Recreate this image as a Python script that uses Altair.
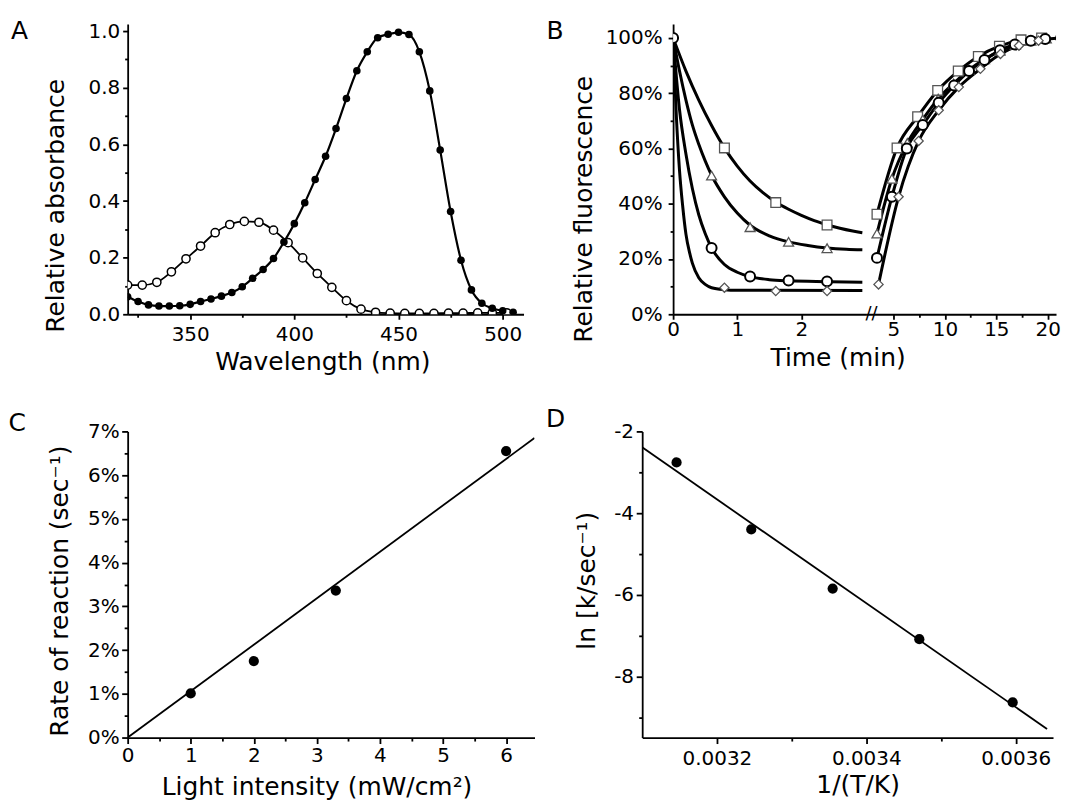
import altair as alt
import pandas as pd

FONT = "DejaVu Sans"

# ---------------- Panel A : absorbance spectra ----------------
a_wl_filled = [320, 325, 330, 335, 340, 345, 350, 355, 360, 365, 370, 375, 380, 385, 390,
               395, 400, 405, 410, 415, 420, 425, 430, 435, 440, 445, 450, 455, 460, 465,
               470, 475, 480, 485, 490, 495, 500, 505]
a_abs_filled = [0.062, 0.045, 0.033, 0.029, 0.029, 0.030, 0.035, 0.045, 0.054, 0.064, 0.077,
                0.097, 0.127, 0.158, 0.197, 0.255, 0.320, 0.394, 0.476, 0.558, 0.656, 0.762,
                0.860, 0.927, 0.977, 0.989, 0.996, 0.988, 0.927, 0.789, 0.580, 0.363, 0.191,
                0.086, 0.039, 0.021, 0.012, 0.007]
a_wl_open = [320, 327, 334, 341, 348, 355, 362, 369, 376, 383, 390, 397, 404, 411, 418,
             425, 432, 439, 446, 453, 460, 467, 474, 481, 488, 495, 502]
a_abs_open = [0.103, 0.103, 0.113, 0.150, 0.196, 0.241, 0.288, 0.317, 0.328, 0.325, 0.297,
              0.253, 0.199, 0.144, 0.095, 0.048, 0.018, 0.007, 0.004, 0.003, 0.003, 0.003,
              0.004, 0.004, 0.005, 0.005, 0.005]

# ---------------- Panel B : fluorescence time course ----------------
# decay (fitted curves, left segment)
b_sq_curve_t = [0, 0.2, 0.4, 0.6, 0.8, 1.0, 1.2, 1.4, 1.6, 1.8, 2.0, 2.2, 2.4, 2.6, 2.8, 2.95]
b_sq_curve_v = [100, 88, 77.5, 68.3, 60.2, 53.6, 48.2, 44, 40.6, 38, 35.8, 33.9, 32.4, 31.1, 30.1, 29.5]
b_tr_curve_t = [0, 0.1, 0.2, 0.3, 0.4, 0.5, 0.6, 0.8, 1.0, 1.2, 1.5, 1.8, 2.1, 2.4, 2.7, 2.95]
b_tr_curve_v = [100, 88, 77.5, 68.5, 61.5, 55.5, 50.3, 42.5, 36.6, 32.2, 28.4, 26.2, 24.9, 24.0, 23.5, 23.3]
b_ci_curve_t = [0, 0.1, 0.2, 0.3, 0.4, 0.5, 0.6, 0.8, 1.0, 1.2, 1.5, 1.8, 2.4, 2.95]
b_ci_curve_v = [100, 74, 58, 45.5, 36, 29.2, 24, 18, 15.2, 13.6, 12.5, 12.1, 11.8, 11.6]
b_di_curve_t = [0, 0.05, 0.1, 0.15, 0.2, 0.26, 0.3, 0.4, 0.5, 0.6, 0.8, 1.0, 2.95]
b_di_curve_v = [100, 72, 52, 39, 29, 22, 18.5, 13.2, 10.8, 9.6, 8.9, 8.7, 8.6]
# decay markers
b_sq_t = [0.8, 1.6, 2.4]
b_sq_v = [60.2, 40.4, 32.3]
b_tr_t = [0.6, 1.2, 1.8, 2.4]
b_tr_v = [50.2, 31.5, 26.2, 23.9]
b_ci_t = [0, 0.6, 1.2, 1.8, 2.4]
b_ci_v = [100, 24, 13.7, 12.2, 11.9]
b_di_t = [0.8, 1.6, 2.4]
b_di_v = [9.6, 8.4, 8.4]
# recovery (right segment)
b_sq_rt = [3.4, 5.35, 7.35, 9.3, 11.3, 13.25, 15.3, 17.4, 19.4]
b_sq_rv = [36.2, 60.2, 71.5, 81.0, 88.0, 93.3, 97.0, 99.3, 100.0]
b_tr_rt = [3.4, 4.85, 6.35, 7.85, 9.35, 10.85, 12.35, 13.85, 15.35, 16.85, 18.35, 19.85]
b_tr_rv = [29.2, 49.0, 62.0, 70.5, 78.0, 83.5, 88.5, 92.3, 95.3, 97.5, 99.0, 99.8]
b_ci_rt = [3.4, 4.85, 6.3, 7.85, 9.4, 10.9, 12.35, 13.85, 15.35, 16.8, 18.35, 19.75, 21.3]
b_ci_rv = [20.4, 42.5, 60.0, 68.5, 76.5, 82.8, 88.0, 92.0, 95.5, 97.6, 99.0, 99.6, 100.0]
b_di_rt = [3.55, 5.5, 7.45, 9.4, 11.35, 13.45, 15.4, 17.2, 19.1]
b_di_rv = [10.8, 42.5, 62.7, 73.8, 82.2, 88.8, 94.2, 97.2, 99.0]

# ---------------- Panel C : rate vs light intensity ----------------
c_int = [1, 2, 3.3, 6]
c_rate = [1.01, 1.75, 3.36, 6.55]
c_fit_x = [0, 6.45]
c_fit_y = [0, 6.85]

# ---------------- Panel D : Arrhenius plot ----------------
d_invT = [0.003146, 0.003246, 0.003355, 0.003471, 0.003596]
d_lnk = [-2.76, -4.40, -5.85, -7.09, -8.64]
d_fit_x = [0.0031, 0.003642]
d_fit_y = [-2.39, -9.29]


def major(values, orient, tick, pad, title, tx, ty, fmt=None, expr=None):
    kw = dict(values=values, orient=orient, tickSize=tick, labelPadding=pad,
              title=title, titleX=tx, titleY=ty)
    if fmt:
        kw["format"] = fmt
    if expr:
        kw["labelExpr"] = expr
    return alt.Axis(**kw)


def minor(values, orient, tick):
    return alt.Axis(values=values, orient=orient, tickSize=tick, labels=False,
                    domain=False, title=None)


def letter(txt, x, y):
    return alt.Chart(pd.DataFrame({"t": [txt]})).mark_text(
        font=FONT, fontSize=25, align="left", baseline="alphabetic", color="black"
    ).encode(text="t:N", x=alt.value(x), y=alt.value(y))


def sc(lo, hi):
    return alt.Scale(domain=[lo, hi], nice=False, zero=False)


# ---- A ----
xA, yA = sc(320, 510), sc(0, 1.025)
dfAf = pd.DataFrame({"wl": a_wl_filled, "v": a_abs_filled})
dfAo = pd.DataFrame({"wl": a_wl_open, "v": a_abs_open})
A_line_o = alt.Chart(dfAo).mark_line(color="black", strokeWidth=1.8, interpolate="monotone", clip=True).encode(
    x=alt.X("wl:Q", scale=xA, axis=None), y=alt.Y("v:Q", scale=yA, axis=None))
A_line_f = alt.Chart(dfAf).mark_line(color="black", strokeWidth=2.2, interpolate="monotone", clip=True).encode(
    x=alt.X("wl:Q", scale=xA, axis=major([350, 400, 450, 500], "bottom", 5, 5.5, "Wavelength (nm)", 195.3, 55, fmt="d")),
    y=alt.Y("v:Q", scale=yA, axis=major([0, 0.2, 0.4, 0.6, 0.8, 1.0], "left", 5, 2.9, "Relative absorbance", -64, 181.7, fmt=".1f")))
A_pts_o = alt.Chart(dfAo).mark_point(shape="circle", filled=True, fill="white", stroke="black", strokeWidth=1.5,
                                     size=68, opacity=1, clip=True).encode(
    x=alt.X("wl:Q", scale=xA, axis=None), y=alt.Y("v:Q", scale=yA, axis=None))
A_pts_f = alt.Chart(dfAf).mark_point(shape="circle", filled=True, color="black", size=58, opacity=1, clip=True).encode(
    x=alt.X("wl:Q", scale=xA, axis=minor([325, 375, 425, 475], "bottom", 3)),
    y=alt.Y("v:Q", scale=yA, axis=minor([0.1, 0.3, 0.5, 0.7, 0.9], "left", 3)))
A = alt.layer(A_line_o, A_line_f, A_pts_o, A_pts_f, letter("A", -117, 15)).resolve_axis(
    x="independent", y="independent").properties(width=397, height=291)

# ---- B ----
def series_df(names, ts, vs):
    rows = []
    for n, t, v in zip(names, ts, vs):
        rows += [{"s": n, "t": a, "v": b} for a, b in zip(t, v)]
    return pd.DataFrame(rows)

names = ["sq", "tr", "ci", "di"]
dfB1_lines = series_df(names, [b_sq_curve_t, b_tr_curve_t, b_ci_curve_t, b_di_curve_t],
                       [b_sq_curve_v, b_tr_curve_v, b_ci_curve_v, b_di_curve_v])
dfB2_lines = series_df(names, [b_sq_rt, b_tr_rt, b_ci_rt, b_di_rt], [b_sq_rv, b_tr_rv, b_ci_rv, b_di_rv])
yB = sc(0, 105)
xB1 = sc(0, 3.0)
xB2 = sc(2.29, 20.8)

marker_style = {
    "sq": dict(shape="square", stroke="#555555", strokeWidth=1.3, size=95),
    "tr": dict(shape="triangle-up", stroke="#555555", strokeWidth=1.3, size=100),
    "ci": dict(shape="circle", stroke="black", strokeWidth=2.0, size=100),
    "di": dict(shape="diamond", stroke="#555555", strokeWidth=1.3, size=85),
}


def markers(t, v, key, xs, xaxis, yaxis):
    df = pd.DataFrame({"t": t, "v": v})
    return alt.Chart(df).mark_point(filled=True, fill="white", opacity=1, clip=True, **marker_style[key]).encode(
        x=alt.X("t:Q", scale=xs, axis=xaxis), y=alt.Y("v:Q", scale=yB, axis=yaxis))


B1_lines = alt.Chart(dfB1_lines).mark_line(color="black", strokeWidth=3, interpolate="monotone", clip=True).encode(
    x=alt.X("t:Q", scale=xB1, axis=major([0, 1, 2], "bottom", 5, 0.5, "Time (min)", 165, 51.5, fmt="d")),
    y=alt.Y("v:Q", scale=yB, axis=major([0, 20, 40, 60, 80, 100], "left", 5, 6, "Relative fluorescence", -82, 185.2,
                                        expr="datum.value + '%'")),
    detail="s:N")
B1 = alt.layer(
    B1_lines,
    markers(b_sq_t, b_sq_v, "sq", xB1, None, minor([10, 30, 50, 70, 90], "left", 3)),
    markers(b_tr_t, b_tr_v, "tr", xB1, None, None),
    markers(b_ci_t, b_ci_v, "ci", xB1, None, None),
    markers(b_di_t, b_di_v, "di", xB1, None, None),
    letter("B", -127, 15),
).resolve_axis(x="independent", y="independent").properties(width=193, height=291)

B2_lines = alt.Chart(dfB2_lines).mark_line(color="black", strokeWidth=3, interpolate="monotone", clip=True).encode(
    x=alt.X("t:Q", scale=xB2, axis=major([5, 10, 15, 20], "bottom", 5, 0.5, None, 0, 0, fmt="d")),
    y=alt.Y("v:Q", scale=yB, axis=None),
    detail="s:N")
brk = alt.Chart(pd.DataFrame({"t": ["//"]})).mark_text(
    font=FONT, fontSize=18, align="center", baseline="middle", color="black"
).encode(text="t:N", x=alt.value(6), y=alt.value(291))
B2 = alt.layer(
    B2_lines,
    markers(b_sq_rt, b_sq_rv, "sq", xB2, minor([7.5, 12.5, 17.5], "bottom", 3), None),
    markers(b_tr_rt, b_tr_rv, "tr", xB2, None, None),
    markers(b_ci_rt, b_ci_rv, "ci", xB2, None, None),
    markers(b_di_rt, b_di_rv, "di", xB2, None, None),
    brk,
).resolve_axis(x="independent", y="independent").properties(width=191, height=291)

# ---- C ----
xC, yC = sc(0, 6.45), sc(0, 7)
C_line = alt.Chart(pd.DataFrame({"x": c_fit_x, "y": c_fit_y})).mark_line(color="black", strokeWidth=1.8, clip=True).encode(
    x=alt.X("x:Q", scale=xC, axis=major([0, 1, 2, 3, 4, 5, 6], "bottom", 6, 1.8, "Light intensity (mW/cm²)", 189.4, 57.5, fmt="d")),
    y=alt.Y("y:Q", scale=yC, axis=major([0, 1, 2, 3, 4, 5, 6, 7], "left", 6, 2.6, "Rate of reaction (sec⁻¹)", -60, 159.7,
                                        expr="datum.value + '%'")))
C_pts = alt.Chart(pd.DataFrame({"x": c_int, "y": c_rate})).mark_point(
    shape="circle", filled=True, color="black", size=105, opacity=1).encode(
    x=alt.X("x:Q", scale=xC, axis=minor([0.5, 1.5, 2.5, 3.5, 4.5, 5.5], "bottom", 3.5)),
    y=alt.Y("y:Q", scale=yC, axis=minor([0.5, 1.5, 2.5, 3.5, 4.5, 5.5, 6.5], "left", 3.5)))
C = alt.layer(C_line, C_pts, letter("C", -119.5, -0.6)).resolve_axis(
    x="independent", y="independent").properties(width=408, height=307)

# ---- D ----
xD, yD = sc(0.0031, 0.00365), sc(-9.5, -2)
D_line = alt.Chart(pd.DataFrame({"x": d_fit_x, "y": d_fit_y})).mark_line(color="black", strokeWidth=1.8, clip=True).encode(
    x=alt.X("x:Q", scale=xD, axis=major([0.0032, 0.0034, 0.0036], "bottom", 6, 5.5, "1/(T/K)", 216, 55.5, fmt=".4f")),
    y=alt.Y("y:Q", scale=yD, axis=major([-2, -4, -6, -8], "left", 6, 2.7, "ln [k/sec⁻¹)", -48, 149.2,
                                        expr="'' + datum.value")))
D_pts = alt.Chart(pd.DataFrame({"x": d_invT, "y": d_lnk})).mark_point(
    shape="circle", filled=True, color="black", size=105, opacity=1).encode(
    x=alt.X("x:Q", scale=xD, axis=minor([0.0033, 0.0035], "bottom", 3.5)),
    y=alt.Y("y:Q", scale=yD, axis=minor([-3, -5, -7, -9], "left", 3.5)))
D = alt.layer(D_line, D_pts, letter("D", -96.5, -4)).resolve_axis(
    x="independent", y="independent").properties(width=412, height=307)


def spacer(w, h):
    return alt.Chart(pd.DataFrame({"s": [0]})).mark_point(opacity=0).encode(
        x=alt.X("s:Q", axis=None), y=alt.Y("s:Q", axis=None)).properties(width=w, height=h)


row1 = alt.hconcat(A, spacer(150, 291), B1, B2, spacing=0, bounds="flush")
row2 = alt.hconcat(C, spacer(108, 307), D, spacing=0, bounds="flush")

chart = alt.vconcat(row1, row2, spacing=33.5).properties(
    padding={"left": 0, "top": 10, "right": 0, "bottom": 0}
).configure_view(stroke=None).configure_axis(
    labelFont=FONT, titleFont=FONT, labelFontSize=20, titleFontSize=25, titleFontWeight="normal",
    labelColor="black", titleColor="black", domainColor="black", tickColor="black",
    domainWidth=1.8, tickWidth=1.8, grid=False, labelFlush=False, labelOverlap=False,
    titleBaseline="alphabetic", titleAlign="center"
)

chart.save("out.html", embed_options={"renderer": "svg", "actions": False})
